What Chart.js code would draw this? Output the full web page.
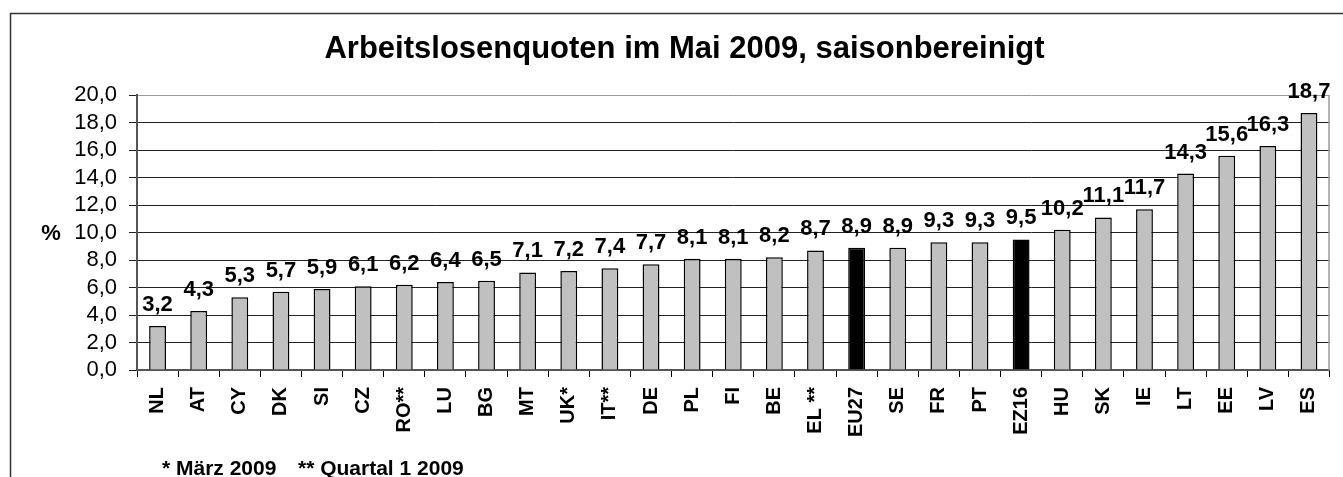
<!DOCTYPE html>
<html>
<head>
<meta charset="utf-8">
<script src="https://cdn.jsdelivr.net/npm/chart.js@4.4.1/dist/chart.umd.min.js"></script>
<style>
  html, body { margin: 0; padding: 0; background: #fff; }
  #wrap { width: 1343px; height: 477px; position: relative; }
</style>
</head>
<body>
<div id="wrap"><canvas id="chart"></canvas></div>
<script>
// --- data ---
const categories = ['NL', 'AT', 'CY', 'DK', 'SI', 'CZ', 'RO**', 'LU', 'BG', 'MT', 'UK*', 'IT**', 'DE', 'PL', 'FI',
    'BE', 'EL **', 'EU27', 'SE', 'FR', 'PT', 'EZ16', 'HU', 'SK', 'IE', 'LT', 'EE', 'LV', 'ES'];
const rates = [3.2, 4.3, 5.3, 5.7, 5.9, 6.1, 6.2, 6.4, 6.5, 7.1, 7.2, 7.4, 7.7, 8.1, 8.1,
    8.2, 8.7, 8.9, 8.9, 9.3, 9.3, 9.5, 10.2, 11.1, 11.7, 14.3, 15.6, 16.3, 18.7];
const aggregates = ['EU27', 'EZ16'];
const yTicks = [0, 2, 4, 6, 8, 10, 12, 14, 16, 18, 20];
const titleText = 'Arbeitslosenquoten im Mai 2009, saisonbereinigt';
const yUnit = '%';
const footnotes = ['* März 2009', '** Quartal 1 2009'];

const FONT = "'Liberation Sans', Arial, sans-serif";
const fmt = v => v.toFixed(1).replace('.', ',');

Chart.defaults.font.family = FONT;
Chart.defaults.color = '#000';

// frame, unit label, footnote and value labels
const decorations = {
    id: 'decorations',
    beforeDraw(chart) {
        const ctx = chart.ctx;
        ctx.save();
        ctx.fillStyle = '#fff';
        ctx.fillRect(0, 0, chart.width, chart.height);
        ctx.strokeStyle = '#333';
        ctx.lineWidth = 1.5;
        ctx.beginPath();
        ctx.moveTo(10.5, chart.height);
        ctx.lineTo(10.5, 13.5);
        ctx.lineTo(chart.width, 13.5);
        ctx.stroke();
        ctx.restore();
    },
    afterDatasetsDraw(chart) {
        const ctx = chart.ctx;
        const area = chart.chartArea;
        const y = chart.scales.y;
        ctx.save();

        // plot area right edge
        ctx.strokeStyle = '#999';
        ctx.lineWidth = 1.5;
        ctx.beginPath();
        ctx.moveTo(area.right - 0.5, area.top);
        ctx.lineTo(area.right - 0.5, area.bottom);
        ctx.stroke();

        // value labels
        ctx.fillStyle = '#000';
        ctx.font = 'bold 22px ' + FONT;
        ctx.textAlign = 'center';
        ctx.textBaseline = 'alphabetic';
        chart.getDatasetMeta(0).data.forEach((bar, i) => {
            ctx.fillText(fmt(rates[i]), bar.x, bar.y - 15);
        });

        // unit
        ctx.font = 'bold 22px ' + FONT;
        ctx.textBaseline = 'middle';
        ctx.fillText(yUnit, area.left - 86, y.getPixelForValue(10) + 1);

        // footnotes
        ctx.font = 'bold 21px ' + FONT;
        ctx.textAlign = 'left';
        ctx.textBaseline = 'alphabetic';
        ctx.fillText(footnotes[0], area.left + 25, chart.height - 2);
        ctx.fillText(footnotes[1], area.left + 161, chart.height - 2);
        ctx.restore();
    }
};

new Chart(document.getElementById('chart'), {
    type: 'bar',
    data: {
        labels: categories,
        datasets: [{
            data: rates,
            backgroundColor: categories.map(c => aggregates.includes(c) ? '#000' : '#c0c0c0'),
            borderColor: '#000',
            borderWidth: 1.5,
            barPercentage: 0.41,
            categoryPercentage: 1
        }]
    },
    options: {
        responsive: true,
        maintainAspectRatio: false,
        animation: false,
        layout: { padding: { left: 28, right: 2, top: 0, bottom: 0 } },
        plugins: {
            legend: { display: false },
            tooltip: { enabled: false },
            title: {
                display: true,
                text: titleText,
                color: '#000',
                font: { size: 31, weight: 'bold', family: FONT },
                padding: { top: 31, bottom: 27 }
            }
        },
        scales: {
            x: {
                afterFit(scale) { scale.height = 107; },
                grid: {
                    display: true,
                    drawOnChartArea: false,
                    drawTicks: true,
                    tickLength: 7,
                    offset: true,
                    color: '#000'
                },
                border: { display: true, color: '#555', width: 2 },
                ticks: {
                    autoSkip: false,
                    minRotation: 90,
                    maxRotation: 90,
                    padding: 10,
                    color: '#000',
                    font: { size: 20, weight: 'bold', family: FONT }
                }
            },
            y: {
                min: 0,
                max: 20,
                afterFit(scale) { scale.width = 109; },
                afterBuildTicks(scale) { scale.ticks = yTicks.map(v => ({ value: v })); },
                grid: {
                    color: ctx => ctx.tick && ctx.tick.value === 20 ? '#999' : '#222',
                    tickColor: '#222',
                    lineWidth: 1,
                    tickLength: 8
                },
                border: { display: true, color: '#555', width: 2 },
                ticks: {
                    autoSkip: false,
                    padding: 12,
                    color: '#000',
                    font: { size: 22, family: FONT },
                    callback: v => fmt(v)
                }
            }
        }
    },
    plugins: [decorations]
});
</script>
</body>
</html>
